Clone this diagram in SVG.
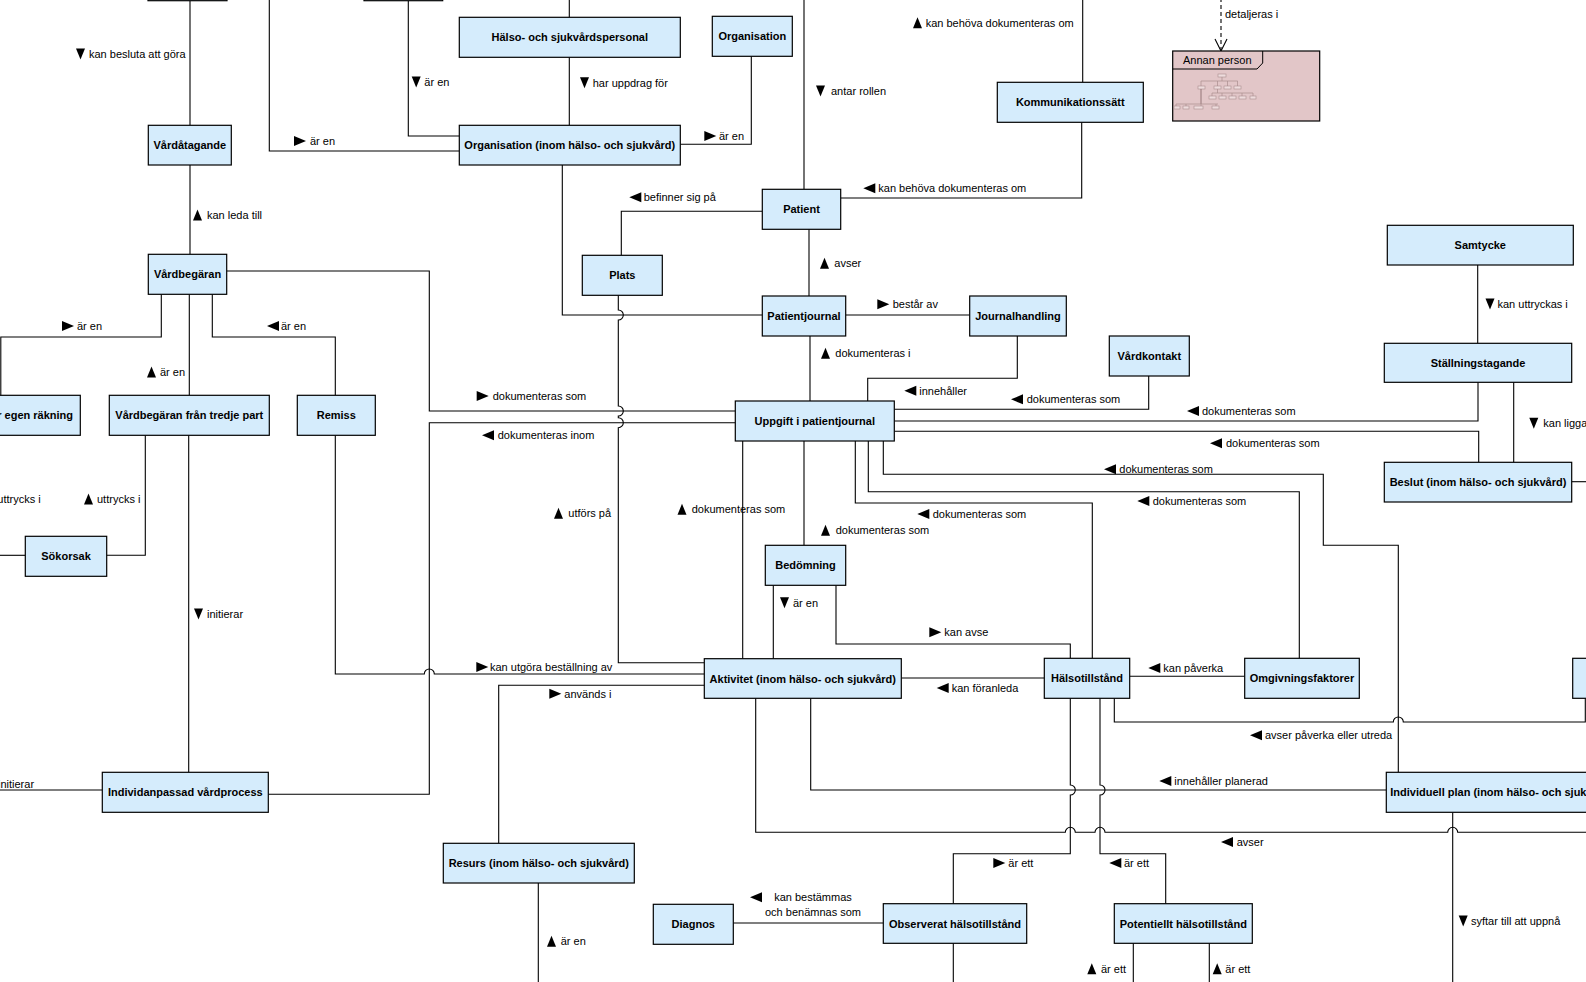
<svg xmlns="http://www.w3.org/2000/svg" xmlns:xlink="http://www.w3.org/1999/xlink" width="1586" height="982" viewBox="0 0 1586 982">
<style>
.n{fill:#d5ecfc;stroke:#000;stroke-width:1.2}
.nt{font-family:"Liberation Sans",Arial,sans-serif;font-size:11px;font-weight:bold;fill:#000;text-anchor:middle}
.c{fill:none;stroke:#000;stroke-width:1.1}
.l{font-family:"Liberation Sans",Arial,sans-serif;font-size:11px;fill:#000}
.a{fill:#000}
.th{fill:none;stroke:#a98c8e;stroke-width:0.7}
.thr{fill:#eedcdd;stroke:#a98c8e;stroke-width:0.6}
</style>
<defs>
<polygon id="tR" class="a" points="0,-5 12,0 0,5"/>
<polygon id="tL" class="a" points="0,0 12,-5 12,5"/>
<polygon id="tU" class="a" points="0,5.5 4.5,-5.5 9,5.5"/>
<polygon id="tD" class="a" points="0,-5.5 9,-5.5 4.5,5.5"/>
</defs>
<rect width="1586" height="982" fill="#fff"/>

<g id="connectors">
<path class="c" d="M190,1 V125.3"/>
<path class="c" d="M190,165 V254.3"/>
<path class="c" d="M269.3,-2 V151 H459.3"/>
<path class="c" d="M408.3,1 V136 H459.3"/>
<path class="c" d="M569.3,-2 V17.3"/>
<path class="c" d="M569.3,57.3 V125.3"/>
<path class="c" d="M680.3,144.3 H751.3 V56.3"/>
<path class="c" d="M562.3,165 V315 H762.3"/>
<path class="c" d="M621.3,255.3 V211.3 H762.3"/>
<path class="c" d="M804,-2 V189.3"/>
<path class="c" d="M1082.7,-2 V82.3"/>
<path class="c" d="M1081.7,122.3 V198 H840.7"/>
<path class="c" d="M809,229.3 V296"/>
<path class="c" d="M845.7,315 H969.7"/>
<path class="c" d="M1221,-2 V50" stroke-dasharray="4,3"/>
<path class="c" d="M1215,39 L1221,51 L1227,39"/>
<path class="c" d="M1477.7,265 V343.3"/>
<path class="c" d="M226.7,271 H429.3 V411 H735.3"/>
<path class="c" d="M161.3,294.3 V337 H0.8 V395.3"/>
<path class="c" d="M189.3,294.3 V395.3"/>
<path class="c" d="M212.3,294.3 V337 H335.3 V395.3"/>
<path class="c" d="M145.3,435.3 V555.3 H106.7"/>
<path class="c" d="M25.3,555.3 H-2"/>
<path class="c" d="M188.7,435.3 V772.3"/>
<path class="c" d="M102.3,790 H-2"/>
<path class="c" d="M268.3,794.3 H429.3 V422.7 H735.3"/>
<path class="c" d="M335.3,435.3 V674 H424.3 A5,5 0 0 1 434.3,674 H704.3"/>
<path class="c" d="M618.3,295.3 V310 A5,5 0 0 1 618.3,320 V406 A5,5 0 0 1 618.3,416 V417.7 A5,5 0 0 1 618.3,427.7 V662.7 H704.3"/>
<path class="c" d="M742.7,441 V658.7"/>
<path class="c" d="M810,336 V401"/>
<path class="c" d="M1017.3,336 V378.3 H867.7 V401"/>
<path class="c" d="M1148.7,376 V409.3 H894.3"/>
<path class="c" d="M1478,382.3 V421 H894.3"/>
<path class="c" d="M894.3,431.3 H1478.7 V462.3"/>
<path class="c" d="M1513.7,382.3 V462.3"/>
<path class="c" d="M1571.7,481.7 H1590"/>
<path class="c" d="M883.3,441 V474.3 H1323.3 V545.3 H1398.3 V772.3"/>
<path class="c" d="M868.3,441 V491.7 H1299.3 V658.3"/>
<path class="c" d="M855.3,441 V503 H1092.3 V658.3"/>
<path class="c" d="M804,441 V545.3"/>
<path class="c" d="M836,585.3 V644 H1070.3 V658.3"/>
<path class="c" d="M773.3,585.3 V658.7"/>
<path class="c" d="M901.3,678 H1044.3"/>
<path class="c" d="M1129.7,676.3 H1244.7"/>
<path class="c" d="M1114.3,698.3 V722 H1393.3 A5,5 0 0 1 1403.3,722 H1585.3 V698.3"/>
<path class="c" d="M498.7,843.3 V685.3 H704.3"/>
<path class="c" d="M538.3,883 V985"/>
<path class="c" d="M733.3,923 H883.3"/>
<path class="c" d="M810.7,698.3 V790 H1386.3"/>
<path class="c" d="M755.7,698.3 V832.3 H1065.3 A5,5 0 0 1 1075.3,832.3 H1095 A5,5 0 0 1 1105,832.3 H1447.7 A5,5 0 0 1 1457.7,832.3 H1590"/>
<path class="c" d="M1070.3,698.3 V785 A5,5 0 0 1 1070.3,795 V853.7 H953.3 V903.7"/>
<path class="c" d="M1100,698.3 V785 A5,5 0 0 1 1100,795 V853.7 H1165.7 V903.7"/>
<path class="c" d="M953.3,943.3 V985"/>
<path class="c" d="M1133.3,943.3 V985"/>
<path class="c" d="M1209.3,943.3 V985"/>
<path class="c" d="M1452.7,812.3 V985"/>
</g>

<g id="labels">
<use href="#tD" x="76" y="54"/><text class="l" x="89" y="58">kan besluta att göra</text>
<use href="#tU" x="193" y="215"/><text class="l" x="207" y="219">kan leda till</text>
<use href="#tR" x="294" y="141"/><text class="l" x="310" y="145">är en</text>
<use href="#tD" x="411.7" y="82"/><text class="l" x="424.3" y="86">är en</text>
<use href="#tD" x="580" y="82.7"/><text class="l" x="592.7" y="86.7">har uppdrag för</text>
<use href="#tR" x="704.3" y="136"/><text class="l" x="719" y="140">är en</text>
<use href="#tL" x="629.3" y="197.3"/><text class="l" x="643.7" y="201.3">befinner sig på</text>
<use href="#tD" x="816" y="91"/><text class="l" x="831" y="95">antar rollen</text>
<use href="#tU" x="913" y="22.7"/><text class="l" x="925.7" y="26.7">kan behöva dokumenteras om</text>
<use href="#tL" x="863.3" y="188.3"/><text class="l" x="878.3" y="192.3">kan behöva dokumenteras om</text>
<text class="l" x="1225" y="17.7">detaljeras i</text>
<use href="#tU" x="820" y="263.3"/><text class="l" x="834.3" y="267.3">avser</text>
<use href="#tR" x="877.3" y="304.3"/><text class="l" x="892.7" y="308.3">består av</text>
<use href="#tD" x="1485.5" y="304"/><text class="l" x="1497.5" y="308">kan uttryckas i</text>
<use href="#tR" x="62" y="326"/><text class="l" x="77" y="330">är en</text>
<use href="#tL" x="267" y="326"/><text class="l" x="281" y="330">är en</text>
<use href="#tU" x="147" y="372"/><text class="l" x="160" y="376">är en</text>
<use href="#tU" x="84" y="499"/><text class="l" x="97" y="503">uttrycks i</text>
<text class="l" x="40.7" y="503" text-anchor="end">uttrycks i</text>
<use href="#tD" x="194" y="614"/><text class="l" x="207" y="618">initierar</text>
<text class="l" x="-2" y="787.7">initierar</text>
<use href="#tR" x="476.7" y="396"/><text class="l" x="492.7" y="400">dokumenteras som</text>
<use href="#tL" x="482" y="435.3"/><text class="l" x="497.7" y="439.3">dokumenteras inom</text>
<use href="#tU" x="554" y="513.3"/><text class="l" x="568.3" y="517.3">utförs på</text>
<use href="#tU" x="677.5" y="509.3"/><text class="l" x="691.7" y="513.3">dokumenteras som</text>
<use href="#tD" x="780" y="602.7"/><text class="l" x="793" y="606.7">är en</text>
<use href="#tL" x="1011" y="399.3"/><text class="l" x="1026.7" y="403.3">dokumenteras som</text>
<use href="#tU" x="821" y="353.3"/><text class="l" x="835.3" y="357.3">dokumenteras i</text>
<use href="#tL" x="904.3" y="390.7"/><text class="l" x="919.3" y="394.7">innehåller</text>
<use href="#tL" x="1187" y="411"/><text class="l" x="1202" y="415">dokumenteras som</text>
<use href="#tL" x="1210" y="443.3"/><text class="l" x="1226" y="447.3">dokumenteras som</text>
<use href="#tD" x="1529.3" y="423.3"/><text class="l" x="1543.3" y="427.3">kan ligga</text>
<use href="#tL" x="1104" y="469.3"/><text class="l" x="1119.3" y="473.3">dokumenteras som</text>
<use href="#tL" x="1137.3" y="501"/><text class="l" x="1152.7" y="505">dokumenteras som</text>
<use href="#tL" x="917.3" y="514"/><text class="l" x="932.7" y="518">dokumenteras som</text>
<use href="#tU" x="821" y="530.3"/><text class="l" x="835.7" y="534.3">dokumenteras som</text>
<use href="#tR" x="929.3" y="632.3"/><text class="l" x="944.3" y="636.3">kan avse</text>
<use href="#tR" x="476.3" y="667"/><text class="l" x="490" y="671">kan utgöra beställning av</text>
<use href="#tR" x="549.3" y="693.7"/><text class="l" x="564.3" y="697.7">används i</text>
<use href="#tU" x="547" y="941.3"/><text class="l" x="560.7" y="945.3">är en</text>
<use href="#tL" x="750" y="897.3"/><text class="l" x="813" y="901.3" text-anchor="middle">kan bestämmas</text>
<text class="l" x="813" y="916" text-anchor="middle">och benämnas som</text>
<use href="#tL" x="936.7" y="688"/><text class="l" x="951.7" y="692">kan föranleda</text>
<use href="#tL" x="1148.3" y="668"/><text class="l" x="1163.3" y="672">kan påverka</text>
<use href="#tL" x="1250" y="735.3"/><text class="l" x="1265" y="739.3">avser påverka eller utreda</text>
<use href="#tL" x="1159.3" y="781"/><text class="l" x="1174.3" y="785">innehåller planerad</text>
<use href="#tL" x="1221" y="842"/><text class="l" x="1236.7" y="846">avser</text>
<use href="#tR" x="993.3" y="863"/><text class="l" x="1008.3" y="867">är ett</text>
<use href="#tL" x="1109.3" y="863"/><text class="l" x="1124" y="867">är ett</text>
<use href="#tU" x="1087.3" y="968.7"/><text class="l" x="1101" y="972.7">är ett</text>
<use href="#tU" x="1212.7" y="968.7"/><text class="l" x="1225.3" y="972.7">är ett</text>
<use href="#tD" x="1458.7" y="921"/><text class="l" x="1471" y="925">syftar till att uppnå</text>
</g>

<g id="top-box-1"><rect class="n" x="148" y="-40" width="79" height="40.7"/></g>
<g id="top-box-2"><rect class="n" x="364" y="-40" width="78.7" height="40.7"/></g>
<g id="halso-och-sjukvardspersonal"><rect class="n" x="459.3" y="17.3" width="221" height="40"/><text class="nt" x="569.8" y="41.3">Hälso- och sjukvårdspersonal</text></g>
<g id="organisation"><rect class="n" x="712.3" y="16.3" width="80" height="40"/><text class="nt" x="752.3" y="40.3">Organisation</text></g>
<g id="kommunikationssatt"><rect class="n" x="997.3" y="82.3" width="146" height="40"/><text class="nt" x="1070.3" y="106.3">Kommunikationssätt</text></g>
<g id="annan-person">
<rect x="1172.7" y="51" width="147" height="70" fill="#e2c6c8" stroke="#000" stroke-width="1.2"/>
<path d="M1172.7,69 H1257 L1262.7,63 V51" fill="none" stroke="#000" stroke-width="1"/>
<text class="l" x="1183" y="64.3">Annan person</text>
<g>
<rect class="thr" x="1218" y="74" width="8" height="3"/>
<path class="th" d="M1222,77 V81 M1201,81 H1237.7 M1201,81 V86 M1217.5,81 V86 M1227.5,81 V86 M1237.5,81 V86"/>
<rect class="thr" x="1198" y="86" width="7" height="3"/>
<rect class="thr" x="1214" y="86" width="7" height="3"/>
<rect class="thr" x="1224" y="86" width="7" height="3"/>
<rect class="thr" x="1234" y="86" width="7" height="3"/>
<path class="th" d="M1217.5,89 V93 M1212,93 H1253 M1212,93 V96 M1222,93 V96 M1232,93 V96 M1242,93 V96 M1253,93 V96"/>
<rect class="thr" x="1209" y="96" width="7" height="3"/>
<rect class="thr" x="1219" y="96" width="7" height="3"/>
<rect class="thr" x="1229" y="96" width="7" height="3"/>
<rect class="thr" x="1239" y="96" width="7" height="3"/>
<rect class="thr" x="1250" y="96" width="6" height="3"/>
<path d="M1201,89 V104" stroke="#8a6c6e" stroke-width="0.9" fill="none"/>
<path class="th" d="M1176,104 H1218 M1176,104 V106 M1186,104 V106 M1201,104 V106 M1216,104 V106"/>
<rect class="thr" x="1174" y="106" width="6" height="3"/>
<rect class="thr" x="1183" y="106" width="6" height="3"/>
<rect class="thr" x="1194" y="106" width="9" height="3"/>
<rect class="thr" x="1212" y="106" width="7" height="3"/>
</g>
</g>
<g id="vardatagande"><rect class="n" x="148.3" y="125.3" width="83" height="39.7"/><text class="nt" x="189.8" y="149.2">Vårdåtagande</text></g>
<g id="organisation-inom"><rect class="n" x="459.3" y="125.3" width="221" height="39.7"/><text class="nt" x="569.8" y="149.2">Organisation (inom hälso- och sjukvård)</text></g>
<g id="patient"><rect class="n" x="762.3" y="189.3" width="78.4" height="40"/><text class="nt" x="801.5" y="213.3">Patient</text></g>
<g id="samtycke"><rect class="n" x="1387.3" y="225.3" width="186" height="39.7"/><text class="nt" x="1480.3" y="249.2">Samtycke</text></g>
<g id="vardbegaran"><rect class="n" x="148.3" y="254.3" width="78.4" height="40"/><text class="nt" x="187.5" y="278.3">Vårdbegäran</text></g>
<g id="plats"><rect class="n" x="582.3" y="255.3" width="80" height="40"/><text class="nt" x="622.3" y="279.3">Plats</text></g>
<g id="patientjournal"><rect class="n" x="762.3" y="296" width="83.4" height="40"/><text class="nt" x="804" y="320">Patientjournal</text></g>
<g id="journalhandling"><rect class="n" x="969.7" y="296" width="96.6" height="40"/><text class="nt" x="1018" y="320">Journalhandling</text></g>
<g id="vardkontakt"><rect class="n" x="1109.3" y="336" width="80" height="40"/><text class="nt" x="1149.3" y="360">Vårdkontakt</text></g>
<g id="stallningstagande"><rect class="n" x="1384.3" y="343.3" width="187.4" height="39"/><text class="nt" x="1478" y="366.8">Ställningstagande</text></g>
<g id="vardbegaran-egen"><rect class="n" x="-90" y="395.3" width="170.3" height="40"/><text class="nt" x="73" y="419.3" style="text-anchor:end">r egen räkning</text></g>
<g id="vardbegaran-tredje-part"><rect class="n" x="109.3" y="395.3" width="160" height="40"/><text class="nt" x="189.3" y="419.3">Vårdbegäran från tredje part</text></g>
<g id="remiss"><rect class="n" x="297.3" y="395.3" width="78" height="40"/><text class="nt" x="336.3" y="419.3">Remiss</text></g>
<g id="uppgift-i-patientjournal"><rect class="n" x="735.3" y="401" width="159" height="40"/><text class="nt" x="814.8" y="425">Uppgift i patientjournal</text></g>
<g id="beslut"><rect class="n" x="1384.3" y="462.3" width="187.4" height="39.7"/><text class="nt" x="1478" y="486.2">Beslut (inom hälso- och sjukvård)</text></g>
<g id="sokorsak"><rect class="n" x="25.3" y="536.3" width="81.4" height="40"/><text class="nt" x="66" y="560.3">Sökorsak</text></g>
<g id="bedomning"><rect class="n" x="765.3" y="545.3" width="80.4" height="40"/><text class="nt" x="805.5" y="569.3">Bedömning</text></g>
<g id="aktivitet"><rect class="n" x="704.3" y="658.7" width="197" height="39.6"/><text class="nt" x="802.8" y="682.5">Aktivitet (inom hälso- och sjukvård)</text></g>
<g id="halsotillstand"><rect class="n" x="1044.3" y="658.3" width="85.4" height="40"/><text class="nt" x="1087" y="682.3">Hälsotillstånd</text></g>
<g id="omgivningsfaktorer"><rect class="n" x="1244.7" y="658.3" width="114.6" height="40"/><text class="nt" x="1302" y="682.3">Omgivningsfaktorer</text></g>
<g id="right-box"><rect class="n" x="1572.7" y="658.3" width="120" height="40"/></g>
<g id="individanpassad-vardprocess"><rect class="n" x="102.3" y="772.3" width="166" height="40"/><text class="nt" x="185.3" y="796.3">Individanpassad vårdprocess</text></g>
<g id="individuell-plan"><rect class="n" x="1386.3" y="772.3" width="260" height="40"/><text class="nt" x="1390.3" y="796.3" style="text-anchor:start">Individuell plan (inom hälso- och sjuk</text></g>
<g id="resurs"><rect class="n" x="443.3" y="843.3" width="191" height="39.7"/><text class="nt" x="538.8" y="867.2">Resurs (inom hälso- och sjukvård)</text></g>
<g id="diagnos"><rect class="n" x="653.3" y="904.3" width="80" height="40"/><text class="nt" x="693.3" y="928.3">Diagnos</text></g>
<g id="observerat-halsotillstand"><rect class="n" x="883.3" y="903.7" width="143.4" height="39.6"/><text class="nt" x="955" y="927.5">Observerat hälsotillstånd</text></g>
<g id="potentiellt-halsotillstand"><rect class="n" x="1114.3" y="903.7" width="138" height="39.6"/><text class="nt" x="1183.3" y="927.5">Potentiellt hälsotillstånd</text></g>
</svg>
